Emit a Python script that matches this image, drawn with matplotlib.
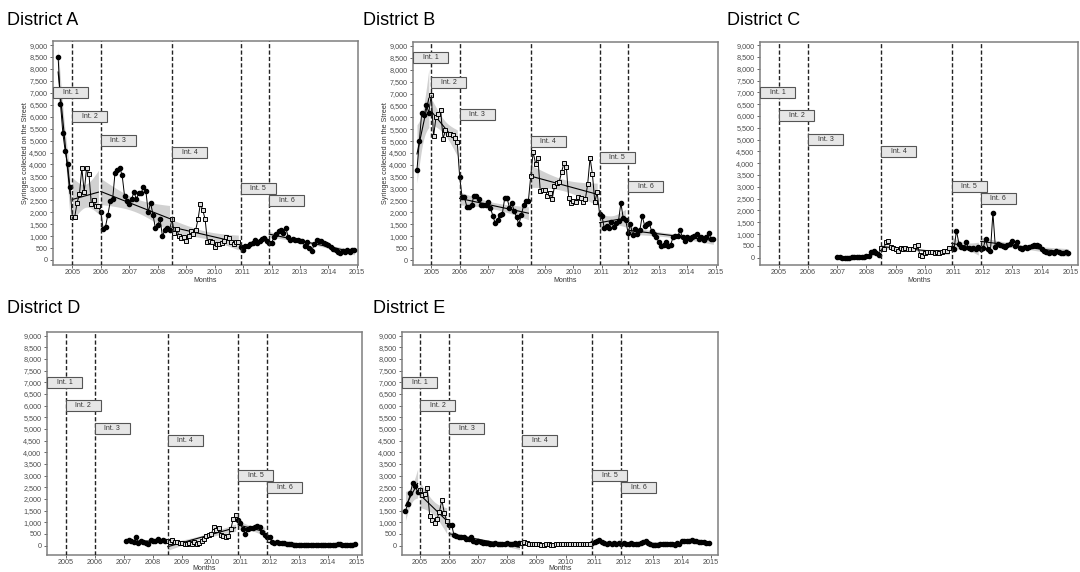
import numpy as np
import matplotlib
matplotlib.use('Agg')
import matplotlib.pyplot as plt
from matplotlib.patches import Rectangle
from matplotlib.ticker import FuncFormatter

plt.rcParams['font.family'] = ['Liberation Sans', 'DejaVu Sans']

# intervention start dates (decimal years) and box labels
int_dates = [2005.0, 2006.0, 2008.5, 2010 + 11 / 12, 2011 + 11 / 12]
int_names = ['Int. 1', 'Int. 2', 'Int. 3', 'Int. 4', 'Int. 5', 'Int. 6']
label_y = [7000, 6000, 5000, 4500, 3000, 2500]
label_y_b = [8500, 7450, 6100, 5000, 4300, 3100]

# monthly syringe counts, one list per district, first month given by *_start
a_start = 2004.5
a_vals = [8500, 6550, 5300, 4550, 4000, 3050,
          1800, 1800, 2400, 2750, 3850, 2850, 3850, 3600, 2350, 2500, 2250, 2250,
          2000, 1300, 1400, 1900, 2450, 2550, 3650, 3750, 3850, 3550, 2700, 2450,
          2350, 2550, 2850, 2550, 2800, 2800, 3050, 2900, 2000, 2400, 1900, 1350,
          1450, 1700, 1000, 1250, 1350, 1250,
          1700, 1150, 1300, 1000, 900, 950, 800, 1000, 1200, 1100, 1250, 1700,
          2350, 2100, 1700, 750, 800, 750, 550, 650, 650, 700, 800, 950, 900, 750,
          650, 750, 750,
          550, 420, 600, 580, 650, 720, 820, 720, 780, 870, 930, 800,
          720, 700, 950, 1100, 1200, 1250, 1150, 1350, 980, 850, 880, 850, 830,
          800, 780, 600, 760, 500, 380, 650, 820, 800, 780, 700, 650, 620, 550,
          480, 420, 350, 300, 380, 330, 420, 350, 420, 400]

b_start = 2004.5
b_vals = [3800, 5000, 6200, 6100, 6500, 6200,
          6950, 5200, 6000, 6150, 6300, 5100, 5450, 5300, 5300, 5250, 5150, 4950,
          3500, 2650, 2650, 2250, 2250, 2300, 2700, 2700, 2550, 2300, 2300, 2300,
          2450, 2200, 1850, 1550, 1700, 1900, 1950, 2600, 2600, 2200, 2400, 2050,
          1800, 1500, 1900, 2300, 2500, 2500,
          3550, 4550, 4050, 4300, 2900, 2950, 2950, 2700, 2800, 2550, 3100, 3250,
          3300, 3700, 4100, 3900, 2600, 2400, 2500, 2450, 2650, 2600, 2450, 2550,
          3200, 4300, 3600, 2450, 2850,
          1950, 1850, 1350, 1450, 1350, 1600, 1400, 1550, 1650, 2400, 1750, 1700,
          1150, 1500, 1050, 1300, 1100, 1250, 1850, 1450, 1500, 1550, 1200, 1100,
          950, 750, 600, 650, 750, 600, 650, 950, 1000, 1000, 1250, 950, 800, 950,
          900, 950, 1000, 1100, 900, 950, 850, 950, 1150, 900, 900]

c_start = 2007.0
c_vals = [20, 10, 5, 5, 0, 5, 10, 30, 20, 10, 20, 40, 50, 60, 220, 280, 180, 120,
          400, 350, 650, 700, 450, 400, 350, 300, 400, 350, 400, 350, 350, 380,
          500, 550, 100, 50, 200, 250, 250, 250, 200, 250, 200, 250, 300, 300, 400,
          400, 350, 1150, 600, 450, 400, 650, 400, 350, 400, 350, 450,
          350, 400, 800, 350, 300, 1900, 450, 600, 550, 500, 450, 550, 600, 700,
          500, 650, 400, 350, 450, 400, 450, 500, 550, 550, 500, 350, 300, 250,
          200, 250, 200, 300, 250, 200, 200, 250, 180]

d_start = 2007 + 1 / 12
d_vals = [200, 250, 200, 150, 350, 100, 200, 150, 100, 50, 250, 200, 200, 280,
          200, 250, 200,
          200, 150, 250, 150, 150, 100, 100, 80, 60, 100, 80, 150, 60, 100, 200,
          300, 400, 450, 500, 800, 650, 750, 450, 400, 350, 400, 700, 1150, 1300,
          1100, 950, 700, 500, 700, 750, 750, 800, 850, 800, 600, 450,
          350, 350, 150, 120, 150, 120, 100, 100, 80, 60, 50, 40, 30, 30, 20, 20,
          20, 20, 10, 10, 10, 10, 10, 10, 10, 20, 20, 30, 40, 50, 50, 40, 40, 30,
          20, 40, 60]

e_start = 2004.5
e_vals = [1500, 1800, 2250, 2700, 2550, 2300,
          2400, 2150, 2200, 2450, 1250, 1100, 950, 1150, 1450, 1950, 1400, 1050,
          900, 900, 450, 400, 350, 350, 350, 300, 300, 350, 200, 150, 200, 150,
          100, 100, 100, 80, 50, 100, 80, 80, 60, 50, 100, 80, 60, 100, 80, 100,
          100, 150, 100, 80, 60, 50, 60, 50, 30, 40, 50, 50, 40, 30, 50, 60, 50,
          50, 60, 80, 50, 50, 50, 60, 60, 60, 80, 80, 60,
          100, 150, 200, 250, 150, 100, 80, 100, 80, 100, 80, 100,
          80, 100, 80, 60, 100, 80, 60, 50, 100, 150, 200, 100, 50, 30, 20, 40,
          50, 60, 80, 50, 60, 80, 40, 100, 80, 200, 180, 200, 200, 250, 200, 180,
          170, 150, 150, 130, 120]

W, H = 1080, 572
fig = plt.figure(figsize=(W / 100, H / 100), dpi=100)

# (title, start, values, label heights, show ylabel, box px (l, t, r, b), xlim, ylim, title px)
panels = [
    ('District A', a_start, a_vals, label_y, True, (53, 41, 358, 265), (2004.32, 2015.04), (-210, 9170), (7, 25)),
    ('District B', b_start, b_vals, label_y_b, True, (413, 42, 718, 265), (2004.36, 2015.08), (-210, 9170), (363, 25)),
    ('District C', c_start, c_vals, label_y, False, (760, 42, 1078, 265), (2004.35, 2015.25), (-310, 9130), (727, 25)),
    ('District D', d_start, d_vals, label_y, False, (47, 332, 362, 555), (2004.36, 2015.17), (-400, 9150), (7, 313)),
    ('District E', e_start, e_vals, label_y, False, (402, 332, 718, 555), (2004.38, 2015.24), (-400, 9150), (373, 313)),
]


def t_crit(df):
    return 1.96 + 2.5 / df + 2.5 / df ** 2


for title, start, vals, ly, show_ylab, box, xlim, ylim, tpos in panels:
    l, t, r, b = box
    ax = fig.add_axes([l / W, 1 - b / H, (r - l) / W, (b - t) / H])
    y = np.array(vals, dtype=float)
    x = start + np.arange(len(y)) / 12
    seg = np.searchsorted(int_dates, x + 1e-6)

    # linear trend + 95% band for every intervention period
    for s in np.unique(seg):
        m = seg == s
        xs, ys = x[m], y[m]
        if len(xs) < 3:
            continue
        bcoef, acoef = np.polyfit(xs, ys, 1)
        res = ys - (acoef + bcoef * xs)
        n = len(xs)
        sd = np.sqrt((res ** 2).sum() / (n - 2))
        xm = xs.mean()
        sxx = ((xs - xm) ** 2).sum()
        gx = np.linspace(xs.min(), xs.max(), 50)
        gy = acoef + bcoef * gx
        ci = t_crit(n - 2) * sd * np.sqrt(1 / n + (gx - xm) ** 2 / sxx)
        ax.fill_between(gx, gy - ci, gy + ci, color='#a0a0a0', alpha=0.48, lw=0, zorder=1)
        ax.plot(gx, gy, color='black', lw=0.8, zorder=2)

    ax.plot(x, y, color='black', lw=0.7, zorder=3)
    sq = (seg == 1) | (seg == 3)
    ax.plot(x[~sq], y[~sq], 'o', color='black', ms=3.0, zorder=4)
    ax.plot(x[sq], y[sq], 's', mfc='#dcdcdc', mec='black', mew=0.7, ms=3.4, zorder=4)

    for d in int_dates:
        ax.axvline(d, color='#222222', lw=1.0, ls=(0, (3, 1.6)), zorder=5)

    ax.set_xlim(*xlim)
    ax.set_ylim(*ylim)
    bw = 35 * (xlim[1] - xlim[0]) / (r - l)
    bh = 11 * (ylim[1] - ylim[0]) / (b - t)
    lefts = [xlim[0]] + int_dates
    for x0, yc, name in zip(lefts, ly, int_names):
        ax.add_patch(Rectangle((x0, yc - bh / 2), bw, bh, facecolor='#e6e6e6',
                               edgecolor='#555555', lw=0.8, zorder=6))
        ax.text(x0 + bw / 2, yc, name, ha='center', va='center', fontsize=5,
                color='#333333', zorder=7)

    ax.set_xticks(range(2005, 2016))
    ax.set_yticks(range(0, 9001, 500))
    ax.yaxis.set_major_formatter(FuncFormatter(lambda v, p: f'{int(v):,}'))
    ax.tick_params(labelsize=5.2, colors='#4d4d4d', length=2.5, width=0.6, pad=1.5)
    ax.tick_params(axis='x', length=2.0, pad=1.0)
    for sp in ax.spines.values():
        sp.set_color('#7f7f7f')
        sp.set_linewidth(1.1)

    ax.set_xlabel('Months', fontsize=5, color='#333333')
    # bottom row sits right at the figure edge, keep its label inside
    ax.xaxis.set_label_coords(0.5, -(12.0 if b < 300 else 10.5) / (b - t))
    if show_ylab:
        ax.set_ylabel('Syringes collected on the Street', fontsize=5.2, color='#333333')
        ax.yaxis.set_label_coords(-24 / (r - l), 0.5)

    fig.text(tpos[0] / W, 1 - tpos[1] / H, title, fontsize=13, ha='left', va='baseline')

fig.savefig('out.png', dpi=100)
